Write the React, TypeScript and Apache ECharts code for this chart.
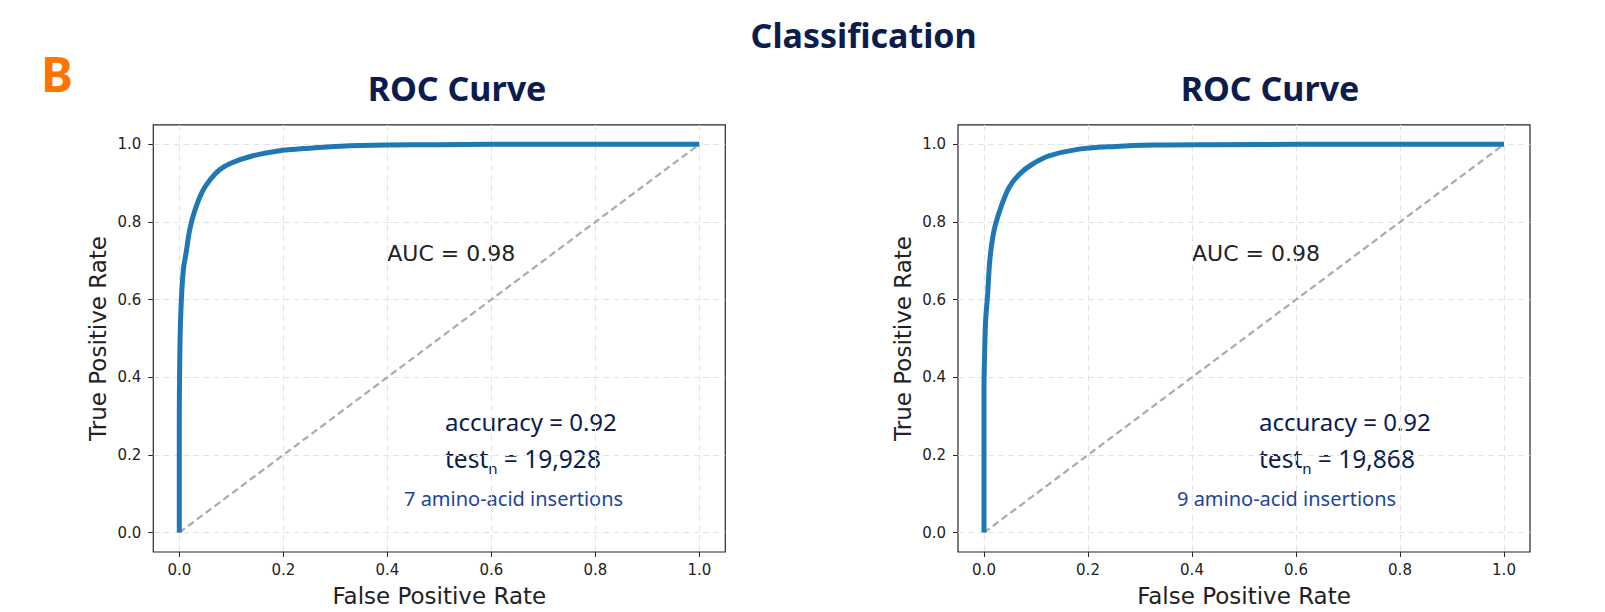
import React, { useEffect, useRef } from "react";
import * as echarts from "echarts";

// ---- data ----
const TICK_VALUES = [0, 0.2, 0.4, 0.6, 0.8, 1.0];
const TICK_LABELS = ["0.0", "0.2", "0.4", "0.6", "0.8", "1.0"];

// ROC curve, 7 amino-acid insertions (left panel)
const FPR_7 = [0, 0, 0, 0.0005, 0.0015, 0.004, 0.008, 0.013, 0.02, 0.03, 0.045, 0.06, 0.078, 0.1, 0.14, 0.19, 0.25, 0.31, 0.4, 0.5, 0.6, 0.8, 1.0];
const TPR_7 = [0, 0.15, 0.3, 0.4, 0.5, 0.6, 0.68, 0.72, 0.78, 0.83, 0.88, 0.91, 0.935, 0.952, 0.97, 0.983, 0.99, 0.995, 0.998, 0.999, 1.0, 1.0, 1.0];

// ROC curve, 9 amino-acid insertions (right panel)
const FPR_9 = [0, 0, 0, 0.001, 0.003, 0.007, 0.011, 0.019, 0.032, 0.048, 0.068, 0.092, 0.125, 0.18, 0.246, 0.327, 0.45, 0.6, 0.8, 1.0];
const TPR_9 = [0, 0.2, 0.372, 0.45, 0.544, 0.613, 0.699, 0.776, 0.836, 0.888, 0.923, 0.948, 0.97, 0.987, 0.994, 0.998, 0.999, 1.0, 1.0, 1.0];

// chance line
const CHANCE_FPR = [0, 1];
const CHANCE_TPR = [0, 1];

const SUPER_TITLE = "Classification";
const PANEL_LETTER = "B";
const PANEL_TITLES = ["ROC Curve", "ROC Curve"];
const X_NAME = "False Positive Rate";
const Y_NAME = "True Positive Rate";
const AUC_TEXT = ["AUC = 0.98", "AUC = 0.98"];
const ACCURACY_TEXT = ["accuracy = 0.92", "accuracy = 0.92"];
const TEST_N = ["19,928", "19,868"];
const INSERTIONS = ["7 amino-acid insertions", "9 amino-acid insertions"];

const NAVY = "#0b1c4d";
const INK = "#222222";

export default function App() {
  const ref = useRef<HTMLDivElement>(null);

  useEffect(() => {
    if (!ref.current) return;
    const chart = echarts.init(ref.current, null, { renderer: "svg" });

    const gridBoxes = [
      { left: 153.3, top: 124.9, width: 572, height: 427.4 },
      { left: 958, top: 124.9, width: 572, height: 427.4 },
    ];

    const fmt = (v: number) => {
      const i = TICK_VALUES.findIndex((t) => Math.abs(t - v) < 1e-9);
      return i >= 0 ? TICK_LABELS[i] : v.toFixed(1);
    };

    const grids = gridBoxes.map((g) => ({
      ...g,
      show: true,
      borderColor: "#262626",
      borderWidth: 1.2,
      backgroundColor: "transparent",
      containLabel: false,
    }));

    const splitLine = {
      show: true,
      lineStyle: { color: "#e3e3e3", type: [6, 4], width: 1 },
    };

    const xAxes = gridBoxes.map((_, i) => ({
      type: "value",
      gridIndex: i,
      min: -0.05,
      max: 1.05,
      name: X_NAME,
      nameLocation: "middle",
      nameGap: 32,
      nameTextStyle: { fontFamily: "DejaVu Sans", fontSize: 23, color: INK },
      axisLine: { show: false, onZero: false },
      axisTick: { show: true, length: 5, customValues: TICK_VALUES, lineStyle: { color: "#262626", width: 1 } },
      axisLabel: { customValues: TICK_VALUES, formatter: fmt, fontFamily: "DejaVu Sans", fontSize: 15, color: INK, margin: 10 },
      splitLine,
    }));

    const yAxes = gridBoxes.map((_, i) => ({
      type: "value",
      gridIndex: i,
      min: -0.05,
      max: 1.05,
      name: Y_NAME,
      nameLocation: "middle",
      nameGap: 44,
      nameTextStyle: { fontFamily: "DejaVu Sans", fontSize: 23, color: INK },
      axisLine: { show: false, onZero: false },
      axisTick: { show: true, length: 5, customValues: TICK_VALUES, lineStyle: { color: "#262626", width: 1 } },
      axisLabel: { customValues: TICK_VALUES, formatter: fmt, fontFamily: "DejaVu Sans", fontSize: 15, color: INK, margin: 12 },
      splitLine,
    }));

    const rocSets = [
      { fpr: FPR_7, tpr: TPR_7 },
      { fpr: FPR_9, tpr: TPR_9 },
    ];

    const series: any[] = [];
    rocSets.forEach((s, i) => {
      series.push({
        type: "line",
        xAxisIndex: i,
        yAxisIndex: i,
        data: CHANCE_FPR.map((x, k) => [x, CHANCE_TPR[k]]),
        showSymbol: false,
        lineStyle: { color: "#aaaaaa", width: 2.2, type: [7, 4] },
        z: 2,
        silent: true,
      });
      series.push({
        type: "line",
        xAxisIndex: i,
        yAxisIndex: i,
        data: s.fpr.map((x, k) => [x, s.tpr[k]]),
        showSymbol: false,
        smooth: 0.3,
        lineStyle: { color: "#1f77b4", width: 5, cap: "butt", join: "round" },
        z: 3,
        silent: true,
      });
    });

    const annX = [
      { auc: 387.3, acc: 445, ins: 404 },
      { auc: 1192, acc: 1259, ins: 1177 },
    ];
    const titleX = [457, 1270];

    const graphic: any[] = [
      {
        type: "text",
        x: 863.6,
        y: 34.5,
        style: { text: SUPER_TITLE, fontFamily: "Noto Sans", fontWeight: "bold", fontSize: 34, fill: NAVY, align: "center", verticalAlign: "middle" },
      },
      {
        type: "text",
        x: 41,
        y: 73,
        style: { text: PANEL_LETTER, fontFamily: "Noto Sans", fontWeight: "bold", fontSize: 48, fill: "#ff7400", align: "left", verticalAlign: "middle" },
      },
    ];
    [0, 1].forEach((i) => {
      graphic.push({
        type: "text",
        x: titleX[i],
        y: 88,
        style: { text: PANEL_TITLES[i], fontFamily: "Noto Sans", fontWeight: "bold", fontSize: 34, fill: NAVY, align: "center", verticalAlign: "middle" },
      });
      graphic.push({
        type: "text",
        x: annX[i].auc,
        y: 253.3,
        style: { text: AUC_TEXT[i], fontFamily: "DejaVu Sans", fontSize: 22, fill: INK, align: "left", verticalAlign: "middle" },
      });
      graphic.push({
        type: "text",
        x: annX[i].acc,
        y: 421.5,
        style: { text: ACCURACY_TEXT[i], fontFamily: "Noto Sans", fontSize: 24, fill: NAVY, align: "left", verticalAlign: "middle" },
      });
      graphic.push({
        type: "text",
        x: annX[i].acc,
        y: 458.5,
        style: {
          text: "{a|test}{s|n}{a| = " + TEST_N[i] + "}",
          fontFamily: "Noto Sans",
          align: "left",
          verticalAlign: "middle",
          rich: {
            a: { fontFamily: "Noto Sans", fontSize: 24.5, fill: NAVY, color: NAVY, lineHeight: 30, verticalAlign: "middle" },
            s: { fontFamily: "Noto Sans", fontSize: 15, fill: NAVY, color: NAVY, lineHeight: 30, verticalAlign: "bottom", padding: [0, 0, -2, 0] },
          },
        },
      });
      graphic.push({
        type: "text",
        x: annX[i].ins,
        y: 498,
        style: { text: INSERTIONS[i], fontFamily: "Noto Sans", fontSize: 20, fill: "#21449a", align: "left", verticalAlign: "middle" },
      });
    });

    chart.setOption({
      animation: false,
      backgroundColor: "#ffffff",
      grid: grids,
      xAxis: xAxes,
      yAxis: yAxes,
      series,
      graphic,
    });

    return () => chart.dispose();
  }, []);

  return (
    <div
      ref={ref}
      style={{ position: "fixed", left: 0, top: 0, width: 1605, height: 612, background: "#fff" }}
    />
  );
}
